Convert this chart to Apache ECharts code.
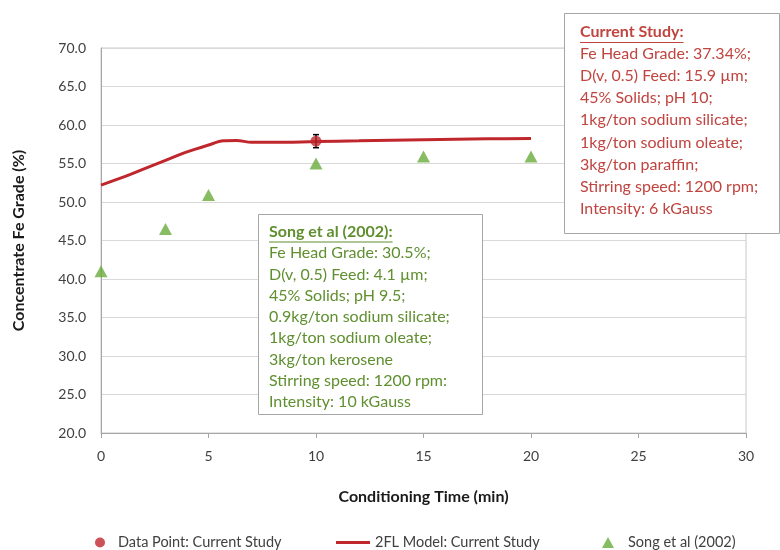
<!DOCTYPE html>
<html><head><meta charset="utf-8">
<script src="https://cdn.jsdelivr.net/npm/echarts@6/dist/echarts.min.js"></script>
<style>html,body{margin:0;padding:0;background:#fff}#chart{width:780px;height:550px}</style>
</head><body><div id="chart"></div>
<script>
// ---- data ----
const modelTime  = [0, 1, 2, 3, 4, 5, 5.7, 6.3, 7, 8, 10, 12, 15, 18, 20];
const modelGrade = [52.2, 53.2, 54.3, 55.4, 56.5, 57.4, 57.95, 58.0, 57.75, 57.75, 57.85, 57.95, 58.1, 58.2, 58.25];
const pointTime  = [10];
const pointGrade = [57.9];
const pointError = [0.85];
const songTime   = [0, 3, 5, 10, 15, 20];
const songGrade  = [41.0, 46.5, 50.9, 55.0, 55.9, 55.9];
const legendNames = ['Data Point: Current Study', '2FL Model: Current Study', 'Song et al (2002)'];
const xTitle = 'Conditioning Time (min)';
const yTitle = 'Concentrate Fe Grade (%)';
const currentTitle = 'Current Study:';
const currentLines = ['Fe Head Grade: 37.34%;', 'D(v, 0.5) Feed: 15.9 \u00b5m;', '45% Solids; pH 10;',
  '1kg/ton sodium silicate;', '1kg/ton sodium oleate;', '3kg/ton paraffin;',
  'Stirring speed: 1200 rpm;', 'Intensity: 6 kGauss'];
const songTitle = 'Song et al (2002):';
const songLines = ['Fe Head Grade: 30.5%;', 'D(v, 0.5) Feed: 4.1 \u00b5m;', '45% Solids; pH 9.5;',
  '0.9kg/ton sodium silicate;', '1kg/ton sodium oleate;', '3kg/ton kerosene',
  'Stirring speed: 1200 rpm:', 'Intensity: 10 kGauss'];

const RED = '#c0272d', TXTRED = '#c0443f', TXTGREEN = '#5f8f2f', TRI = '#6aab3c';
const FONT = 'Lato, "Open Sans", sans-serif';

const ctx = document.createElement('canvas').getContext('2d');
function textW(t, f) { ctx.font = f; return ctx.measureText(t).width; }

const chart = echarts.init(document.getElementById('chart'), null, { renderer: 'canvas' });

function boxGraphics(x, y, w, h, tx, titleY, title, lines, lineTop, lh, color) {
  const tf = 'bold 16px ' + FONT;
  const tw = textW(title, tf);
  return [
    { type: 'rect', z: 100, shape: { x: x + 0.5, y: y + 0.5, width: w, height: h },
      style: { fill: '#fff', stroke: '#a6a6a6', lineWidth: 1 } },
    { type: 'text', z: 101, style: { x: tx, y: titleY, text: title, font: tf, fill: color, verticalAlign: 'middle' } },
    { type: 'line', z: 101, shape: { x1: tx, y1: titleY + 10.5, x2: tx + tw, y2: titleY + 10.5 },
      style: { stroke: color, lineWidth: 1 } },
    { type: 'text', z: 101, style: { x: tx, y: lineTop, text: lines.join('\n'), font: '16px ' + FONT,
      fill: color, verticalAlign: 'top', lineHeight: lh } }
  ];
}

const legendText = { fontFamily: FONT, fontSize: 14.5, color: '#404040' };

const option = {
  animation: false,
  backgroundColor: '#fff',
  grid: { left: 101, right: 34, top: 48, bottom: 117, show: true, borderColor: '#c8c8c8', borderWidth: 1 },
  xAxis: {
    type: 'value', min: 0, max: 30, interval: 5,
    name: xTitle, nameLocation: 'middle', nameGap: 56,
    nameTextStyle: { fontFamily: FONT, fontWeight: 'bold', fontSize: 16, color: '#1a1a1a' },
    axisLine: { show: true, lineStyle: { color: '#a6a6a6' } },
    axisTick: { show: true, length: 5, lineStyle: { color: '#a6a6a6' } },
    axisLabel: { margin: 16, fontFamily: FONT, fontSize: 14, color: '#404040' },
    splitLine: { show: false }
  },
  yAxis: {
    type: 'value', min: 20, max: 70, interval: 5,
    name: yTitle, nameLocation: 'middle', nameGap: 74,
    nameTextStyle: { fontFamily: FONT, fontWeight: 'bold', fontSize: 16, color: '#1a1a1a' },
    axisLine: { show: true, lineStyle: { color: '#a6a6a6' } },
    axisTick: { show: false },
    axisLabel: { margin: 15, fontFamily: FONT, fontSize: 14, color: '#404040', formatter: v => v.toFixed(1) },
    splitLine: { show: true, lineStyle: { color: '#d9d9d9' } }
  },
  legend: [
    { data: [{ name: legendNames[0], icon: 'circle' }], left: 90, top: 530, itemWidth: 10, itemHeight: 10,
      textStyle: Object.assign({ padding: [0, 0, 0, 8] }, legendText) },
    { data: [{ name: legendNames[1], icon: 'rect' }], left: 331, top: 530, itemWidth: 34, itemHeight: 3,
      textStyle: legendText },
    { data: [{ name: legendNames[2], icon: 'triangle' }], left: 597, top: 530, itemWidth: 12, itemHeight: 11,
      textStyle: Object.assign({ padding: [0, 0, 0, 9] }, legendText) }
  ],
  series: [
    {
      name: legendNames[1], type: 'line', symbol: 'none', smooth: 0.35, z: 2,
      data: modelTime.map((t, i) => [t, modelGrade[i]]),
      lineStyle: { color: RED, width: 3 }, itemStyle: { color: RED }
    },
    {
      name: 'errorbar', type: 'custom', z: 3,
      data: pointTime.map((t, i) => [t, pointGrade[i] - pointError[i], pointGrade[i] + pointError[i]]),
      renderItem: function (params, api) {
        const lo = api.coord([api.value(0), api.value(1)]);
        const hi = api.coord([api.value(0), api.value(2)]);
        const c = 3;
        const st = { stroke: '#000', lineWidth: 1.5 };
        return { type: 'group', children: [
          { type: 'line', shape: { x1: lo[0], y1: lo[1], x2: hi[0], y2: hi[1] }, style: st },
          { type: 'line', shape: { x1: lo[0] - c, y1: lo[1], x2: lo[0] + c, y2: lo[1] }, style: st },
          { type: 'line', shape: { x1: hi[0] - c, y1: hi[1], x2: hi[0] + c, y2: hi[1] }, style: st }
        ] };
      }
    },
    {
      name: legendNames[0], type: 'scatter', symbol: 'circle', symbolSize: 11, z: 4,
      data: pointTime.map((t, i) => [t, pointGrade[i]]),
      itemStyle: { color: RED }
    },
    {
      name: legendNames[2], type: 'scatter', symbol: 'triangle', symbolSize: [13, 12], z: 4,
      data: songTime.map((t, i) => [t, songGrade[i]]),
      itemStyle: { color: TRI }
    }
  ],
  graphic: [].concat(
    boxGraphics(564, 13, 215, 220, 580, 32, currentTitle, currentLines, 42.5, 22.2, TXTRED),
    boxGraphics(258, 214, 224, 200, 269, 231.5, songTitle, songLines, 242.5, 21.25, TXTGREEN)
  )
};
chart.setOption(option);
</script></body></html>
